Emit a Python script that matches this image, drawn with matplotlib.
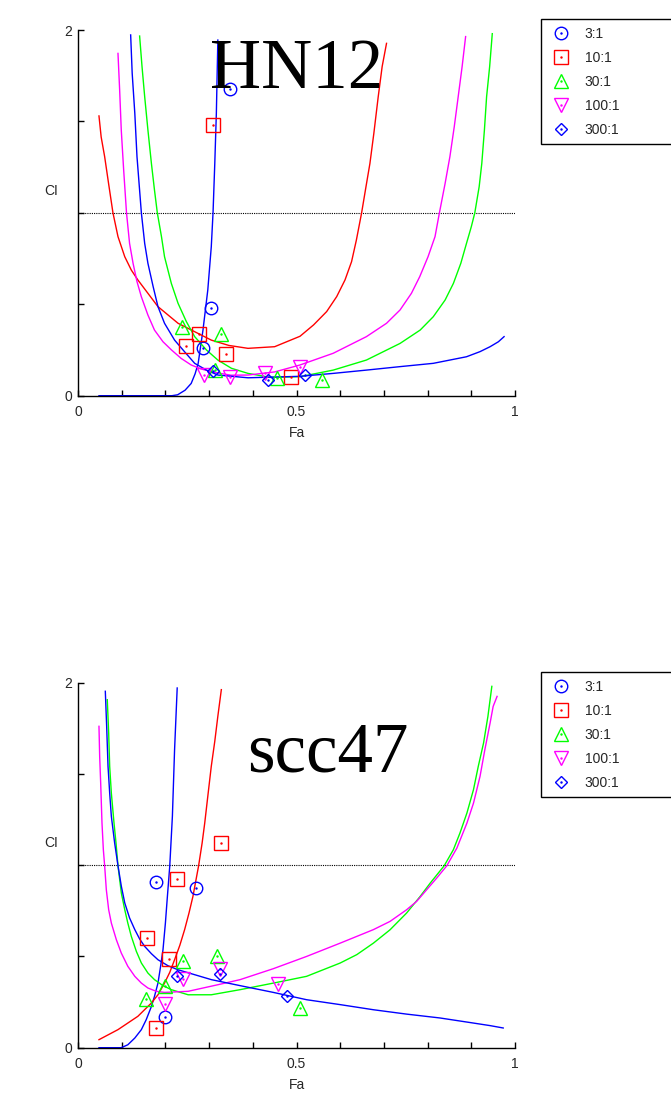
import numpy as np
import matplotlib
matplotlib.use("Agg")
import matplotlib.pyplot as plt
from matplotlib.lines import Line2D
from matplotlib.legend_handler import HandlerTuple

# ---- HN12: CI vs Fa curves ----
hn_fa_3 = [0.048, 0.215, 0.228, 0.245, 0.259, 0.268, 0.275, 0.286, 0.297, 0.305, 0.309, 0.313, 0.3166, 0.32]
hn_ci_3 = [0.0, 0.0, 0.005, 0.03, 0.067, 0.12, 0.177, 0.359, 0.578, 0.815, 1.0, 1.27, 1.544, 1.945]

hn_fa_10 = [0.048, 0.053, 0.061, 0.070, 0.080, 0.0915, 0.107, 0.122, 0.137, 0.16, 0.183, 0.229, 0.305, 0.345, 0.389,
            0.45, 0.508, 0.539, 0.569, 0.592, 0.611, 0.626, 0.637, 0.649, 0.659, 0.668, 0.677, 0.687, 0.696, 0.706]
hn_ci_10 = [1.53, 1.415, 1.307, 1.16, 1.0, 0.87, 0.76, 0.687, 0.633, 0.56, 0.487, 0.396, 0.304, 0.275, 0.259,
            0.268, 0.325, 0.387, 0.46, 0.542, 0.633, 0.733, 0.851, 1.0, 1.143, 1.27, 1.435, 1.635, 1.8, 1.927]

hn_fa_30 = [0.141, 0.1465, 0.1526, 0.16, 0.168, 0.175, 0.1815, 0.191, 0.198, 0.2136, 0.229, 0.248, 0.267, 0.294,
            0.32, 0.351, 0.389, 0.44, 0.508, 0.584, 0.66, 0.737, 0.783, 0.813, 0.84, 0.859, 0.876, 0.889, 0.9,
            0.908, 0.918, 0.924, 0.93, 0.935, 0.942, 0.948]
hn_ci_30 = [1.967, 1.8, 1.635, 1.453, 1.27, 1.125, 1.0, 0.87, 0.76, 0.614, 0.505, 0.405, 0.323, 0.25,
            0.195, 0.15, 0.122, 0.10, 0.104, 0.14, 0.195, 0.286, 0.359, 0.432, 0.523, 0.614, 0.724, 0.833, 0.924,
            1.0, 1.143, 1.27, 1.453, 1.635, 1.8, 1.98]

hn_fa_100 = [0.0915, 0.0953, 0.099, 0.1045, 0.111, 0.118, 0.126, 0.135, 0.145, 0.16, 0.175, 0.1945, 0.214, 0.236,
             0.259, 0.282, 0.305, 0.35, 0.389, 0.45, 0.508, 0.584, 0.66, 0.706, 0.737, 0.763, 0.782, 0.801, 0.817,
             0.827, 0.84, 0.851, 0.861, 0.87, 0.879, 0.887]
hn_ci_100 = [1.872, 1.672, 1.453, 1.234, 1.0, 0.833, 0.724, 0.624, 0.541, 0.441, 0.359, 0.295, 0.25, 0.204,
             0.168, 0.146, 0.131, 0.112, 0.113, 0.13, 0.168, 0.232, 0.323, 0.396, 0.469, 0.56, 0.651, 0.76, 0.87,
             1.0, 1.16, 1.307, 1.471, 1.635, 1.8, 1.964]

hn_fa_300 = [0.1205, 0.124, 0.13, 0.135, 0.145, 0.1526, 0.16, 0.172, 0.183, 0.198, 0.221, 0.244, 0.267, 0.294,
             0.32, 0.389, 0.508, 0.584, 0.66, 0.737, 0.813, 0.851, 0.889, 0.92, 0.943, 0.962, 0.975]
hn_ci_300 = [1.973, 1.763, 1.544, 1.307, 1.0, 0.833, 0.724, 0.596, 0.487, 0.396, 0.304, 0.24, 0.177, 0.14,
             0.113, 0.098, 0.106, 0.122, 0.14, 0.159, 0.177, 0.195, 0.213, 0.241, 0.268, 0.295, 0.323]

# HN12 measured points
hn_pts_fa_3 = [0.347, 0.305, 0.286]
hn_pts_ci_3 = [1.675, 0.478, 0.259]
hn_pts_fa_10 = [0.309, 0.248, 0.278, 0.339, 0.487]
hn_pts_ci_10 = [1.48, 0.272, 0.337, 0.228, 0.104]
hn_pts_fa_30 = [0.238, 0.327, 0.313, 0.456, 0.558]
hn_pts_ci_30 = [0.373, 0.336, 0.14, 0.095, 0.084]
hn_pts_fa_100 = [0.288, 0.348, 0.428, 0.508]
hn_pts_ci_100 = [0.115, 0.104, 0.125, 0.159]
hn_pts_fa_300 = [0.31, 0.435, 0.519]
hn_pts_ci_300 = [0.137, 0.086, 0.113]

# ---- scc47 ----
sc_fa_3 = [0.048, 0.099, 0.114, 0.13, 0.145, 0.156, 0.168, 0.175, 0.183, 0.189, 0.1945, 0.2, 0.204, 0.21,
           0.216, 0.221, 0.227]
sc_ci_3 = [0.0, 0.0, 0.016, 0.053, 0.099, 0.153, 0.226, 0.281, 0.354, 0.446, 0.537, 0.683, 0.811, 0.997,
           1.268, 1.633, 1.971]

sc_fa_10 = [0.048, 0.0915, 0.137, 0.168, 0.183, 0.198, 0.21, 0.221, 0.233, 0.244, 0.254, 0.263, 0.276, 0.284,
            0.29, 0.297, 0.305, 0.313, 0.32, 0.328]
sc_ci_10 = [0.044, 0.099, 0.172, 0.245, 0.29, 0.354, 0.413, 0.482, 0.561, 0.647, 0.738, 0.829, 0.997, 1.121,
            1.231, 1.377, 1.542, 1.679, 1.816, 1.962]

sc_fa_30 = [0.067, 0.0702, 0.0725, 0.0763, 0.0824, 0.087, 0.0915, 0.0992, 0.107, 0.114, 0.122, 0.1335, 0.145,
            0.16, 0.175, 0.1945, 0.2136, 0.252, 0.305, 0.371, 0.447, 0.523, 0.6, 0.638, 0.676, 0.714, 0.752,
            0.783, 0.806, 0.838, 0.859, 0.874, 0.89, 0.905, 0.916, 0.928, 0.938, 0.947]
sc_ci_30 = [1.907, 1.724, 1.542, 1.395, 1.231, 1.121, 0.997, 0.847, 0.756, 0.683, 0.61, 0.528, 0.464,
            0.409, 0.373, 0.34, 0.318, 0.29, 0.29, 0.318, 0.354, 0.391, 0.464, 0.51, 0.573, 0.646, 0.738,
            0.829, 0.902, 0.997, 1.085, 1.176, 1.286, 1.414, 1.542, 1.669, 1.815, 1.98]

sc_fa_100 = [0.048, 0.0496, 0.0519, 0.0549, 0.058, 0.061, 0.0648, 0.0702, 0.0763, 0.0877, 0.099, 0.114, 0.13,
             0.145, 0.16, 0.179, 0.198, 0.252, 0.32, 0.371, 0.447, 0.523, 0.6, 0.676, 0.714, 0.752, 0.775,
             0.798, 0.821, 0.844, 0.867, 0.89, 0.905, 0.92, 0.931, 0.943, 0.95, 0.959]
sc_ci_100 = [1.761, 1.596, 1.45, 1.231, 1.085, 0.997, 0.866, 0.756, 0.683, 0.592, 0.519, 0.446, 0.391,
             0.354, 0.327, 0.309, 0.303, 0.309, 0.345, 0.373, 0.433, 0.5, 0.573, 0.647, 0.692, 0.756, 0.802,
             0.866, 0.93, 0.997, 1.094, 1.231, 1.34, 1.487, 1.633, 1.779, 1.87, 1.925]

sc_fa_300 = [0.0625, 0.0656, 0.0687, 0.0725, 0.0763, 0.0839, 0.0915, 0.0992, 0.107, 0.118, 0.13, 0.141, 0.1526,
             0.168, 0.183, 0.206, 0.229, 0.267, 0.305, 0.371, 0.447, 0.523, 0.6, 0.676, 0.752, 0.828, 0.905,
             0.943, 0.973]
sc_ci_300 = [1.953, 1.76, 1.542, 1.395, 1.268, 1.121, 0.997, 0.884, 0.793, 0.711, 0.647, 0.596, 0.555,
             0.515, 0.482, 0.449, 0.427, 0.40, 0.373, 0.34, 0.303, 0.263, 0.236, 0.208, 0.184, 0.163, 0.135,
             0.121, 0.108]

sc_pts_fa_3 = [0.179, 0.271, 0.2]
sc_pts_ci_3 = [0.906, 0.875, 0.166]
sc_pts_fa_10 = [0.328, 0.227, 0.158, 0.208, 0.179]
sc_pts_ci_10 = [1.121, 0.926, 0.601, 0.486, 0.108]
sc_pts_fa_30 = [0.317, 0.24, 0.2, 0.156, 0.508]
sc_pts_ci_30 = [0.50, 0.473, 0.336, 0.267, 0.217]
sc_pts_fa_100 = [0.326, 0.24, 0.2, 0.458]
sc_pts_ci_100 = [0.431, 0.376, 0.241, 0.349]
sc_pts_fa_300 = [0.2265, 0.326, 0.478]
sc_pts_ci_300 = [0.395, 0.405, 0.281]

ratios = ['3:1', '10:1', '30:1', '100:1', '300:1']
colors = ['#0000ff', '#ff0000', '#00ff00', '#ff00ff', '#0000ff']
markers = ['o', 's', '^', 'v', 'D']
msizes = [9, 9.5, 9.5, 9.5, 6.5]

W, H = 671, 1094
fig = plt.figure(figsize=(W / 100, H / 100), dpi=100)
txtcol = '#262626'
plt.rcParams['font.family'] = ['Liberation Sans', 'DejaVu Sans']


def draw_panel(ax, curves, points, legend_top):
    for (fa, ci), c in zip(curves, colors):
        ax.plot(fa, ci, color=c, lw=1.0, zorder=2)
    ax.axhline(1, color='k', ls=(0, (1, 1)), lw=0.8, zorder=1)
    handles = []
    for (fa, ci), c, m, ms in zip(points, colors, markers, msizes):
        ax.plot(fa, ci, ls='none', marker=m, ms=ms, mfc='none', mec=c, mew=1.0, zorder=3)
        ax.plot(fa, ci, ls='none', marker='.', ms=1.5, color=c, zorder=3)
        h1 = Line2D([], [], ls='none', marker=m, ms=ms, mfc='none', mec=c, mew=1.0)
        h2 = Line2D([], [], ls='none', marker='.', ms=1.5, color=c)
        handles.append((h1, h2))

    ax.set_xlim(0, 1)
    ax.set_ylim(0, 2)
    ax.set_xticks(np.arange(0, 1.01, 0.1))
    ax.set_xticklabels(['0', '', '', '', '', '0.5', '', '', '', '', '1'])
    ax.set_yticks([0, 0.5, 1, 1.5, 2])
    ax.set_yticklabels(['0', '', '', '', '2'])
    ax.spines['top'].set_visible(False)
    ax.spines['right'].set_visible(False)
    ax.spines['left'].set_linewidth(1.0)
    ax.spines['bottom'].set_linewidth(1.0)
    ax.tick_params(axis='x', direction='in', length=4, width=1, labelsize=10, pad=7, labelcolor=txtcol)
    ax.tick_params(axis='y', direction='in', length=4, width=1, labelsize=10, pad=4, labelcolor=txtcol)
    ax.set_xlabel('Fa', fontsize=10, color=txtcol, va='top')
    ax.xaxis.set_label_coords(0.5, -0.083)
    ax.set_ylabel('CI', fontsize=10, color=txtcol, rotation=0, va='center', ha='center')
    ax.yaxis.set_label_coords(-0.062, 0.56)

    leg = ax.legend(handles, ratios, loc='upper left',
                    bbox_to_anchor=(541 / W, 1 - legend_top / H, 0.25, 0),
                    bbox_transform=fig.transFigure, mode='expand',
                    borderaxespad=0, borderpad=0.55, handlelength=1.8,
                    handletextpad=0.8, labelspacing=0.72, fontsize=10,
                    fancybox=False, framealpha=1, edgecolor='k',
                    handler_map={tuple: HandlerTuple(ndivide=1, pad=0)})
    leg.get_frame().set_linewidth(1.0)
    for t in leg.get_texts():
        t.set_color(txtcol)


ax1 = fig.add_axes([78 / W, 1 - 395.7 / H, 437 / W, 365.7 / H])
draw_panel(ax1,
           [(hn_fa_3, hn_ci_3), (hn_fa_10, hn_ci_10), (hn_fa_30, hn_ci_30),
            (hn_fa_100, hn_ci_100), (hn_fa_300, hn_ci_300)],
           [(hn_pts_fa_3, hn_pts_ci_3), (hn_pts_fa_10, hn_pts_ci_10), (hn_pts_fa_30, hn_pts_ci_30),
            (hn_pts_fa_100, hn_pts_ci_100), (hn_pts_fa_300, hn_pts_ci_300)],
           19)

ax2 = fig.add_axes([78 / W, 1 - 1047.7 / H, 437 / W, 365 / H])
draw_panel(ax2,
           [(sc_fa_3, sc_ci_3), (sc_fa_10, sc_ci_10), (sc_fa_30, sc_ci_30),
            (sc_fa_100, sc_ci_100), (sc_fa_300, sc_ci_300)],
           [(sc_pts_fa_3, sc_pts_ci_3), (sc_pts_fa_10, sc_pts_ci_10), (sc_pts_fa_30, sc_pts_ci_30),
            (sc_pts_fa_100, sc_pts_ci_100), (sc_pts_fa_300, sc_pts_ci_300)],
           672)

# cell line names
fig.text(297 / W, 1 - 88 / H, 'HN12', fontsize=51, family='Liberation Serif',
         ha='center', va='baseline', color='k', zorder=5)
fig.text(328 / W, 1 - 772 / H, 'scc47', fontsize=51, family='Liberation Serif',
         ha='center', va='baseline', color='k', zorder=5)

fig.savefig('out.png', dpi=100)
